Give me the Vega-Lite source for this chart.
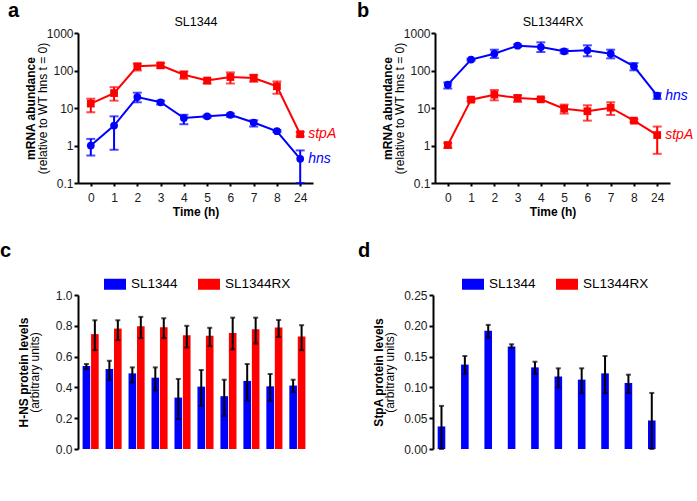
{
  "$schema": "https://vega.github.io/schema/vega-lite/v6.json",
  "padding": {"left": 0, "top": 1, "right": 0, "bottom": 0},
  "background": "white",
  "resolve": {"scale": {"color": "independent", "shape": "independent"}},
  "config": {
    "font": "Liberation Sans",
    "view": {"stroke": null},
    "axis": {"grid": false, "domainColor": "black", "domainWidth": 2, "tickColor": "black", "tickWidth": 2, "tickSize": 4, "labelFontSize": 12, "labelColor": "#1a1a1a", "titleFontSize": 12, "titleColor": "black", "titleFontWeight": "bold", "labelFont": "Liberation Sans", "titleFont": "Liberation Sans"},
    "title": {"font": "Liberation Sans", "fontSize": 20, "fontWeight": "bold", "anchor": "start", "frame": "bounds", "color": "black", "offset": -6}
  },
  "vconcat": [
    {
      "resolve": {"scale": {"color": "independent", "shape": "independent"}},
      "hconcat": [
        {
          "width": 235, "height": 150,
          "title": {"text": "a", "dx": -16},
          "data": {"values": [
            {"t": "0", "s": "stpA", "v": 13.1, "lo": 7.7, "hi": 17.7},
            {"t": "1", "s": "stpA", "v": 25, "lo": 15.7, "hi": 36},
            {"t": "2", "s": "stpA", "v": 129, "lo": 100, "hi": 152},
            {"t": "3", "s": "stpA", "v": 137, "lo": 119, "hi": 158},
            {"t": "4", "s": "stpA", "v": 77, "lo": 60, "hi": 95},
            {"t": "5", "s": "stpA", "v": 54, "lo": 45, "hi": 60},
            {"t": "6", "s": "stpA", "v": 67, "lo": 45, "hi": 89},
            {"t": "7", "s": "stpA", "v": 63, "lo": 50, "hi": 77},
            {"t": "8", "s": "stpA", "v": 38, "lo": 24, "hi": 51},
            {"t": "24", "s": "stpA", "v": 2.0, "lo": 1.75, "hi": 2.3},
            {"t": "0", "s": "hns", "v": 1.0, "lo": 0.54, "hi": 1.5},
            {"t": "1", "s": "hns", "v": 3.4, "lo": 0.77, "hi": 6.0},
            {"t": "2", "s": "hns", "v": 19.6, "lo": 14.2, "hi": 25.6},
            {"t": "3", "s": "hns", "v": 14.2, "lo": 12.5, "hi": 15.7},
            {"t": "4", "s": "hns", "v": 5.4, "lo": 3.7, "hi": 6.6},
            {"t": "5", "s": "hns", "v": 6.0, "lo": 5.5, "hi": 6.3},
            {"t": "6", "s": "hns", "v": 6.6, "lo": 5.8, "hi": 7.1},
            {"t": "7", "s": "hns", "v": 4.1, "lo": 3.2, "hi": 4.7},
            {"t": "8", "s": "hns", "v": 2.4, "lo": 2.3, "hi": 2.6},
            {"t": "24", "s": "hns", "v": 0.44, "lo": 0.1, "hi": 0.74}
          ]},
          "layer": [
            {"mark": {"type": "line", "strokeWidth": 2}, "encoding": {
              "x": {"field": "t", "type": "ordinal", "sort": ["0","1","2","3","4","5","6","7","8","24"], "scale": {"type": "point", "padding": 0.55}, "axis": {"title": "Time (h)", "labelAngle": 0, "tickSize": 3, "labelPadding": 6, "titlePadding": 3}},
              "y": {"field": "v", "type": "quantitative", "scale": {"type": "log", "domain": [0.1, 1000]}, "axis": {"title": "(relative to WT hns t = 0)", "titleFontWeight": "normal", "values": [0.1, 1, 10, 100, 1000], "format": "~g", "minExtent": 29, "maxExtent": 29, "titlePadding": 0, "labelPadding": 1}},
              "color": {"field": "s", "type": "nominal", "scale": {"domain": ["hns", "stpA"], "range": ["#0000ff", "#ff0000"]}, "legend": null}}},
            {"mark": {"type": "rule", "strokeWidth": 2}, "encoding": {
              "x": {"field": "t", "type": "ordinal", "sort": ["0","1","2","3","4","5","6","7","8","24"], "axis": null},
              "y": {"field": "lo", "type": "quantitative", "scale": {"type": "log", "domain": [0.1, 1000]}, "axis": null}, "y2": {"field": "hi"},
              "color": {"field": "s", "type": "nominal", "legend": null}}},
            {"mark": {"type": "tick", "thickness": 2, "size": 9}, "encoding": {
              "x": {"field": "t", "type": "ordinal", "sort": ["0","1","2","3","4","5","6","7","8","24"], "axis": null},
              "y": {"field": "lo", "type": "quantitative", "scale": {"type": "log", "domain": [0.1, 1000]}, "axis": null},
              "color": {"field": "s", "type": "nominal", "legend": null}}},
            {"mark": {"type": "tick", "thickness": 2, "size": 9}, "encoding": {
              "x": {"field": "t", "type": "ordinal", "sort": ["0","1","2","3","4","5","6","7","8","24"], "axis": null},
              "y": {"field": "hi", "type": "quantitative", "scale": {"type": "log", "domain": [0.1, 1000]}, "axis": null},
              "color": {"field": "s", "type": "nominal", "legend": null}}},
            {"mark": {"type": "point", "filled": true, "opacity": 1, "size": 60}, "encoding": {
              "x": {"field": "t", "type": "ordinal", "sort": ["0","1","2","3","4","5","6","7","8","24"], "axis": null},
              "y": {"field": "v", "type": "quantitative", "scale": {"type": "log", "domain": [0.1, 1000]}, "axis": null},
              "color": {"field": "s", "type": "nominal", "legend": null},
              "shape": {"field": "s", "type": "nominal", "scale": {"domain": ["hns", "stpA"], "range": ["circle", "square"]}, "legend": null}}},
            {"transform": [{"filter": "datum.t == '24'"}], "mark": {"type": "text", "align": "left", "baseline": "middle", "dx": 8, "fontSize": 14, "fontStyle": "italic"}, "encoding": {
              "x": {"field": "t", "type": "ordinal", "sort": ["0","1","2","3","4","5","6","7","8","24"], "axis": null},
              "y": {"field": "v", "type": "quantitative", "scale": {"type": "log", "domain": [0.1, 1000]}, "axis": null},
              "color": {"field": "s", "type": "nominal", "legend": null},
              "text": {"field": "s"}}},
            {"mark": {"type": "point", "opacity": 0}, "encoding": {
              "x": {"field": "t", "type": "ordinal", "sort": ["0","1","2","3","4","5","6","7","8","24"], "axis": {"orient": "top", "title": "SL1344", "labels": false, "ticks": false, "domain": false, "titleFontWeight": "normal", "titleFontSize": 12.5, "titlePadding": 5, "minExtent": 0, "maxExtent": 0}},
              "y": {"field": "v", "type": "quantitative", "scale": {"type": "log", "domain": [0.1, 1000]}, "axis": {"orient": "left", "title": "mRNA abundance", "labels": false, "domain": false, "ticks": false, "minExtent": 41, "maxExtent": 41, "titlePadding": 0}}}}
          ],
          "resolve": {"axis": {"x": "independent", "y": "independent"}}
        },
        {
          "width": 235, "height": 150,
          "title": {"text": "b", "dx": -24},
          "data": {"values": [
            {"t": "0", "s": "hns", "v": 42, "lo": 33, "hi": 48},
            {"t": "1", "s": "hns", "v": 195, "lo": 184, "hi": 205},
            {"t": "2", "s": "hns", "v": 281, "lo": 215, "hi": 359},
            {"t": "3", "s": "hns", "v": 459, "lo": 424, "hi": 497},
            {"t": "4", "s": "hns", "v": 423, "lo": 311, "hi": 564},
            {"t": "5", "s": "hns", "v": 324, "lo": 287, "hi": 366},
            {"t": "6", "s": "hns", "v": 345, "lo": 239, "hi": 469},
            {"t": "7", "s": "hns", "v": 281, "lo": 211, "hi": 359},
            {"t": "8", "s": "hns", "v": 129, "lo": 101, "hi": 158},
            {"t": "24", "s": "hns", "v": 21.3, "lo": 17.4, "hi": 25},
            {"t": "0", "s": "stpA", "v": 1.03, "lo": 0.86, "hi": 1.17},
            {"t": "1", "s": "stpA", "v": 16.7, "lo": 15.2, "hi": 18.3},
            {"t": "2", "s": "stpA", "v": 22.7, "lo": 16, "hi": 30.2},
            {"t": "3", "s": "stpA", "v": 18.5, "lo": 14.5, "hi": 21.8},
            {"t": "4", "s": "stpA", "v": 17.0, "lo": 15.3, "hi": 18.8},
            {"t": "5", "s": "stpA", "v": 9.6, "lo": 7.1, "hi": 12.3},
            {"t": "6", "s": "stpA", "v": 8.2, "lo": 4.6, "hi": 11.8},
            {"t": "7", "s": "stpA", "v": 10.2, "lo": 6.5, "hi": 14.2},
            {"t": "8", "s": "stpA", "v": 4.6, "lo": 4.2, "hi": 5.0},
            {"t": "24", "s": "stpA", "v": 1.9, "lo": 0.6, "hi": 3.2}
          ]},
          "layer": [
            {"mark": {"type": "line", "strokeWidth": 2}, "encoding": {
              "x": {"field": "t", "type": "ordinal", "sort": ["0","1","2","3","4","5","6","7","8","24"], "scale": {"type": "point", "padding": 0.55}, "axis": {"title": "Time (h)", "labelAngle": 0, "tickSize": 3, "labelPadding": 6, "titlePadding": 3}},
              "y": {"field": "v", "type": "quantitative", "scale": {"type": "log", "domain": [0.1, 1000]}, "axis": {"title": "(relative to WT hns t = 0)", "titleFontWeight": "normal", "values": [0.1, 1, 10, 100, 1000], "format": "~g", "minExtent": 29, "maxExtent": 29, "titlePadding": 0, "labelPadding": 1}},
              "color": {"field": "s", "type": "nominal", "scale": {"domain": ["hns", "stpA"], "range": ["#0000ff", "#ff0000"]}, "legend": null}}},
            {"mark": {"type": "rule", "strokeWidth": 2}, "encoding": {
              "x": {"field": "t", "type": "ordinal", "sort": ["0","1","2","3","4","5","6","7","8","24"], "axis": null},
              "y": {"field": "lo", "type": "quantitative", "scale": {"type": "log", "domain": [0.1, 1000]}, "axis": null}, "y2": {"field": "hi"},
              "color": {"field": "s", "type": "nominal", "legend": null}}},
            {"mark": {"type": "tick", "thickness": 2, "size": 9}, "encoding": {
              "x": {"field": "t", "type": "ordinal", "sort": ["0","1","2","3","4","5","6","7","8","24"], "axis": null},
              "y": {"field": "lo", "type": "quantitative", "scale": {"type": "log", "domain": [0.1, 1000]}, "axis": null},
              "color": {"field": "s", "type": "nominal", "legend": null}}},
            {"mark": {"type": "tick", "thickness": 2, "size": 9}, "encoding": {
              "x": {"field": "t", "type": "ordinal", "sort": ["0","1","2","3","4","5","6","7","8","24"], "axis": null},
              "y": {"field": "hi", "type": "quantitative", "scale": {"type": "log", "domain": [0.1, 1000]}, "axis": null},
              "color": {"field": "s", "type": "nominal", "legend": null}}},
            {"mark": {"type": "point", "filled": true, "opacity": 1, "size": 60}, "encoding": {
              "x": {"field": "t", "type": "ordinal", "sort": ["0","1","2","3","4","5","6","7","8","24"], "axis": null},
              "y": {"field": "v", "type": "quantitative", "scale": {"type": "log", "domain": [0.1, 1000]}, "axis": null},
              "color": {"field": "s", "type": "nominal", "legend": null},
              "shape": {"field": "s", "type": "nominal", "scale": {"domain": ["hns", "stpA"], "range": ["circle", "square"]}, "legend": null}}},
            {"transform": [{"filter": "datum.t == '24'"}], "mark": {"type": "text", "align": "left", "baseline": "middle", "dx": 8, "fontSize": 14, "fontStyle": "italic"}, "encoding": {
              "x": {"field": "t", "type": "ordinal", "sort": ["0","1","2","3","4","5","6","7","8","24"], "axis": null},
              "y": {"field": "v", "type": "quantitative", "scale": {"type": "log", "domain": [0.1, 1000]}, "axis": null},
              "color": {"field": "s", "type": "nominal", "legend": null},
              "text": {"field": "s"}}},
            {"mark": {"type": "point", "opacity": 0}, "encoding": {
              "x": {"field": "t", "type": "ordinal", "sort": ["0","1","2","3","4","5","6","7","8","24"], "axis": {"orient": "top", "title": "SL1344RX", "labels": false, "ticks": false, "domain": false, "titleFontWeight": "normal", "titleFontSize": 12.5, "titlePadding": 5, "minExtent": 0, "maxExtent": 0}},
              "y": {"field": "v", "type": "quantitative", "scale": {"type": "log", "domain": [0.1, 1000]}, "axis": {"orient": "left", "title": "mRNA abundance", "labels": false, "domain": false, "ticks": false, "minExtent": 41, "maxExtent": 41, "titlePadding": 0}}}}
          ],
          "resolve": {"axis": {"x": "independent", "y": "independent"}}
        }
      ],
      "spacing": 20
    },
    {
      "resolve": {"scale": {"color": "independent", "shape": "independent"}},
      "hconcat": [
        {
          "width": 232, "height": 154,
          "title": {"text": "c", "dx": -17, "offset": 12},
          "data": {"values": [
            {"t": "0", "s": "SL1344", "v": 0.539, "lo": 0.519, "hi": 0.552},
            {"t": "1", "s": "SL1344", "v": 0.519, "lo": 0.448, "hi": 0.573},
            {"t": "2", "s": "SL1344", "v": 0.491, "lo": 0.431, "hi": 0.530},
            {"t": "3", "s": "SL1344", "v": 0.463, "lo": 0.379, "hi": 0.530},
            {"t": "4", "s": "SL1344", "v": 0.334, "lo": 0.194, "hi": 0.455},
            {"t": "5", "s": "SL1344", "v": 0.405, "lo": 0.280, "hi": 0.513},
            {"t": "6", "s": "SL1344", "v": 0.343, "lo": 0.213, "hi": 0.450},
            {"t": "7", "s": "SL1344", "v": 0.442, "lo": 0.315, "hi": 0.552},
            {"t": "8", "s": "SL1344", "v": 0.407, "lo": 0.313, "hi": 0.487},
            {"t": "24", "s": "SL1344", "v": 0.412, "lo": 0.369, "hi": 0.450},
            {"t": "0", "s": "SL1344RX", "v": 0.746, "lo": 0.642, "hi": 0.836},
            {"t": "1", "s": "SL1344RX", "v": 0.782, "lo": 0.707, "hi": 0.836},
            {"t": "2", "s": "SL1344RX", "v": 0.797, "lo": 0.720, "hi": 0.858},
            {"t": "3", "s": "SL1344RX", "v": 0.791, "lo": 0.720, "hi": 0.849},
            {"t": "4", "s": "SL1344RX", "v": 0.739, "lo": 0.659, "hi": 0.800},
            {"t": "5", "s": "SL1344RX", "v": 0.735, "lo": 0.668, "hi": 0.787},
            {"t": "6", "s": "SL1344RX", "v": 0.754, "lo": 0.647, "hi": 0.853},
            {"t": "7", "s": "SL1344RX", "v": 0.778, "lo": 0.685, "hi": 0.853},
            {"t": "8", "s": "SL1344RX", "v": 0.789, "lo": 0.728, "hi": 0.838},
            {"t": "24", "s": "SL1344RX", "v": 0.731, "lo": 0.642, "hi": 0.804}
          ]},
          "layer": [
            {"mark": {"type": "bar"}, "encoding": {
              "x": {"field": "t", "type": "ordinal", "sort": ["0","1","2","3","4","5","6","7","8","24"], "scale": {"paddingInner": 0.3, "paddingOuter": 0.2}, "axis": {"title": "Time (h)", "labelAngle": 0, "tickSize": 3, "labelPadding": 3, "titlePadding": 3, "domainColor": "black", "domainWidth": 3}},
              "xOffset": {"field": "s", "type": "nominal", "scale": {"domain": ["SL1344", "SL1344RX"], "paddingInner": 0.1}},
              "y": {"field": "v", "type": "quantitative", "scale": {"domain": [0, 1]}, "axis": {"title": "(arbitrary units)", "titleFontWeight": "normal", "values": [0, 0.2, 0.4, 0.6, 0.8, 1.0], "format": ".1f", "minExtent": 37, "maxExtent": 37, "titlePadding": 0, "labelPadding": 2}},
              "color": {"field": "s", "type": "nominal", "scale": {"domain": ["SL1344", "SL1344RX"], "range": ["#0000ff", "#ff0000"]}, "legend": {"orient": "none", "legendX": 26, "legendY": -22, "direction": "horizontal", "title": null, "symbolType": "M-1,-0.5H1V0.5H-1Z", "symbolSize": 484, "symbolStrokeWidth": 0, "symbolOpacity": 1, "labelFontSize": 13.5, "labelColor": "black", "labelOffset": 5, "columnPadding": 20}}}},
            {"mark": {"type": "rule", "color": "black", "strokeWidth": 2}, "encoding": {
              "x": {"field": "t", "type": "ordinal", "sort": ["0","1","2","3","4","5","6","7","8","24"], "axis": null},
              "xOffset": {"field": "s", "type": "nominal"},
              "y": {"field": "lo", "type": "quantitative", "scale": {"domain": [0, 1]}, "axis": null}, "y2": {"field": "hi"}}},
            {"mark": {"type": "tick", "color": "black", "thickness": 2, "size": 5}, "encoding": {
              "x": {"field": "t", "type": "ordinal", "sort": ["0","1","2","3","4","5","6","7","8","24"], "axis": null},
              "xOffset": {"field": "s", "type": "nominal"},
              "y": {"field": "lo", "type": "quantitative", "scale": {"domain": [0, 1]}, "axis": null}}},
            {"mark": {"type": "tick", "color": "black", "thickness": 2, "size": 5}, "encoding": {
              "x": {"field": "t", "type": "ordinal", "sort": ["0","1","2","3","4","5","6","7","8","24"], "axis": null},
              "xOffset": {"field": "s", "type": "nominal"},
              "y": {"field": "hi", "type": "quantitative", "scale": {"domain": [0, 1]}, "axis": null}}},
            {"mark": {"type": "point", "opacity": 0}, "encoding": {
              "y": {"field": "v", "type": "quantitative", "scale": {"domain": [0, 1]}, "axis": {"orient": "left", "title": "H-NS protein levels", "labels": false, "ticks": false, "domain": false, "minExtent": 48, "maxExtent": 48, "titlePadding": 0}}}}
          ],
          "resolve": {"axis": {"y": "independent"}}
        },
        {
          "width": 236, "height": 154,
          "title": {"text": "d", "dx": -14, "offset": 12},
          "data": {"values": [
            {"t": "0", "s": "SL1344", "v": 0.0366, "lo": 0.0, "hi": 0.070},
            {"t": "1", "s": "SL1344", "v": 0.137, "lo": 0.122, "hi": 0.151},
            {"t": "2", "s": "SL1344", "v": 0.192, "lo": 0.181, "hi": 0.2015},
            {"t": "3", "s": "SL1344", "v": 0.1665, "lo": 0.164, "hi": 0.170},
            {"t": "4", "s": "SL1344", "v": 0.1325, "lo": 0.1218, "hi": 0.1417},
            {"t": "5", "s": "SL1344", "v": 0.1175, "lo": 0.100, "hi": 0.131},
            {"t": "6", "s": "SL1344", "v": 0.1126, "lo": 0.0905, "hi": 0.131},
            {"t": "7", "s": "SL1344", "v": 0.1228, "lo": 0.0905, "hi": 0.151},
            {"t": "8", "s": "SL1344", "v": 0.1072, "lo": 0.091, "hi": 0.1207},
            {"t": "24", "s": "SL1344", "v": 0.0463, "lo": 0.0, "hi": 0.091}
          ]},
          "layer": [
            {"mark": {"type": "bar"}, "encoding": {
              "x": {"field": "t", "type": "ordinal", "sort": ["0","1","2","3","4","5","6","7","8","24"], "scale": {"paddingInner": 0.3, "paddingOuter": 0.2}, "axis": {"title": "Time (h)", "labelAngle": 0, "tickSize": 3, "labelPadding": 3, "titlePadding": 3, "domainColor": "black", "domainWidth": 3}},
              "xOffset": {"field": "s", "type": "nominal", "scale": {"domain": ["SL1344", "SL1344RX"], "paddingInner": 0.1}},
              "y": {"field": "v", "type": "quantitative", "scale": {"domain": [0, 0.25]}, "axis": {"title": "(arbitrary units)", "titleFontWeight": "normal", "values": [0, 0.05, 0.1, 0.15, 0.2, 0.25], "format": ".2f", "minExtent": 37, "maxExtent": 37, "titlePadding": 0, "labelPadding": 2}},
              "color": {"field": "s", "type": "nominal", "scale": {"domain": ["SL1344", "SL1344RX"], "range": ["#0000ff", "#ff0000"]}, "legend": {"orient": "none", "legendX": 29, "legendY": -22, "direction": "horizontal", "title": null, "symbolType": "M-1,-0.5H1V0.5H-1Z", "symbolSize": 484, "symbolStrokeWidth": 0, "symbolOpacity": 1, "labelFontSize": 13.5, "labelColor": "black", "labelOffset": 5, "columnPadding": 20}}}},
            {"mark": {"type": "rule", "color": "black", "strokeWidth": 2}, "encoding": {
              "x": {"field": "t", "type": "ordinal", "sort": ["0","1","2","3","4","5","6","7","8","24"], "axis": null},
              "xOffset": {"field": "s", "type": "nominal"},
              "y": {"field": "lo", "type": "quantitative", "scale": {"domain": [0, 0.25]}, "axis": null}, "y2": {"field": "hi"}}},
            {"mark": {"type": "tick", "color": "black", "thickness": 2, "size": 5}, "encoding": {
              "x": {"field": "t", "type": "ordinal", "sort": ["0","1","2","3","4","5","6","7","8","24"], "axis": null},
              "xOffset": {"field": "s", "type": "nominal"},
              "y": {"field": "lo", "type": "quantitative", "scale": {"domain": [0, 0.25]}, "axis": null}}},
            {"mark": {"type": "tick", "color": "black", "thickness": 2, "size": 5}, "encoding": {
              "x": {"field": "t", "type": "ordinal", "sort": ["0","1","2","3","4","5","6","7","8","24"], "axis": null},
              "xOffset": {"field": "s", "type": "nominal"},
              "y": {"field": "hi", "type": "quantitative", "scale": {"domain": [0, 0.25]}, "axis": null}}},
            {"mark": {"type": "point", "opacity": 0}, "encoding": {
              "y": {"field": "v", "type": "quantitative", "scale": {"domain": [0, 0.25]}, "axis": {"orient": "left", "title": "StpA protein levels", "labels": false, "ticks": false, "domain": false, "minExtent": 48, "maxExtent": 48, "titlePadding": 0}}}}
          ],
          "resolve": {"axis": {"y": "independent"}}
        }
      ],
      "spacing": 48
    }
  ],
  "spacing": 24
}
